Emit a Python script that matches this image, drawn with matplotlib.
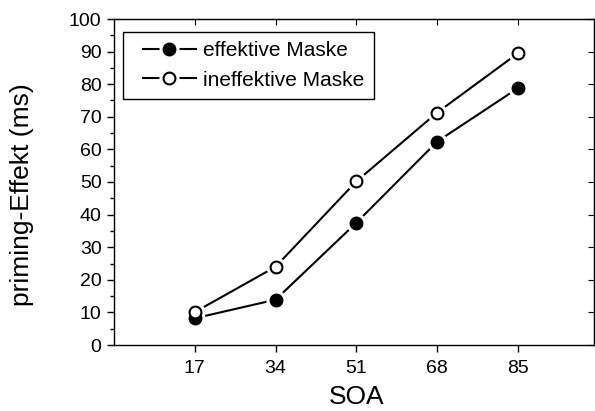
import matplotlib
matplotlib.use("Agg")
import matplotlib.pyplot as plt
from matplotlib.legend_handler import HandlerTuple
from matplotlib.ticker import MultipleLocator

plt.rcParams['font.family'] = ['Liberation Sans', 'DejaVu Sans']

soa = [17, 34, 51, 68, 85]
effektiv = [8.2, 13.9, 37.5, 62.4, 78.8]
ineffektiv = [10.1, 24.0, 50.2, 71.3, 89.5]
labels = ["effektive Maske", "ineffektive Maske"]
xticks = [17, 34, 51, 68, 85]

fig = plt.figure(figsize=(5.95, 4.11), dpi=100)
ax = fig.add_axes([114/595, 66/411, 480/595, 326/411])

ms = 8.5
gap_ms = 13.5
handles = []
for y, face in [(effektiv, 'black'), (ineffektiv, 'white')]:
    ln, = ax.plot(soa, y, color='black', lw=1.5, zorder=2)
    wh, = ax.plot(soa, y, ls='none', marker='o', ms=gap_ms, mfc='white', mec='white', zorder=3)
    mk, = ax.plot(soa, y, ls='none', marker='o', ms=ms, mfc=face, mec='black', mew=1.5, zorder=4)
    handles.append((ln, wh, mk))

ax.set_xlim(0, 101)
ax.set_ylim(0, 100)
ax.set_xticks(xticks)
ax.set_xticklabels([str(v) for v in xticks])
ax.yaxis.set_major_locator(MultipleLocator(10))
ax.yaxis.set_minor_locator(MultipleLocator(5))

ax.tick_params(axis='both', which='major', labelsize=14, length=5, width=1, direction='out')
ax.tick_params(axis='y', which='minor', length=3, width=1, direction='out', right=False)
ax.tick_params(axis='y', which='major', pad=4)
ax.tick_params(axis='x', which='major', pad=6)
ax.tick_params(axis='x', which='minor', bottom=False, top=False)

ax2 = ax.secondary_xaxis('top')
ax2.set_xticks(xticks)
ax2.tick_params(direction='in', length=4, labeltop=False)
ax3 = ax.secondary_yaxis('right')
ax3.yaxis.set_major_locator(MultipleLocator(10))
ax3.yaxis.set_minor_locator(MultipleLocator(100))
ax3.tick_params(direction='in', length=4, labelright=False)
ax3.tick_params(which='minor', length=0)

for s in ax.spines.values():
    s.set_linewidth(1)
    s.set_color('black')

ax.set_xlabel("SOA", fontsize=19)
ax.set_ylabel("priming-Effekt (ms)", fontsize=19)
ax.xaxis.set_label_coords(0.506, -0.124)
ax.yaxis.set_label_coords(-0.167, 0.46)

fs_leg = 15
leg = ax.legend(handles, labels,
                handler_map={tuple: HandlerTuple(ndivide=1, xpad=0.5)},
                loc='upper left', bbox_to_anchor=(9/480, 1 - 13/326),
                fontsize=fs_leg, frameon=True, fancybox=False, edgecolor='black',
                framealpha=1, handlelength=3.05, handletextpad=0.34,
                borderpad=0.45, labelspacing=0.5, borderaxespad=0)
leg.get_frame().set_linewidth(1)

fig.savefig("out.png", dpi=100)
